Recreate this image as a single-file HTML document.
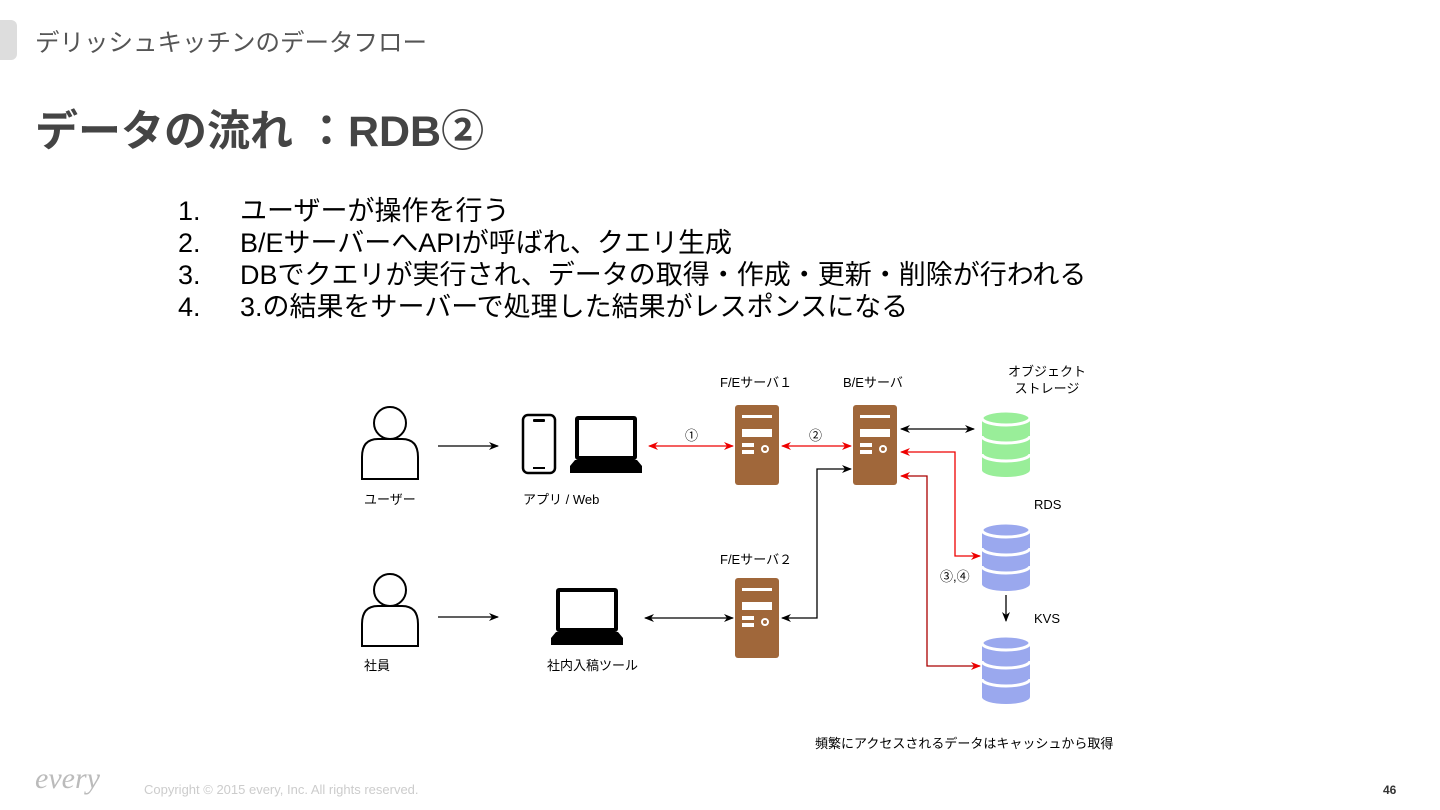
<!DOCTYPE html>
<html><head><meta charset="utf-8"><style>
body{margin:0;width:1440px;height:810px;background:#fff;position:relative;overflow:hidden;font-family:"Liberation Sans","Noto Sans CJK JP",sans-serif}
.a{position:absolute;white-space:nowrap}
.l{font-size:13px;color:#000}
</style></head><body>
<div class="a" style="left:0;top:20px;width:17px;height:40px;background:#ddd;border-radius:0 6px 6px 0"></div>
<div class="a" style="left:35px;top:24px;font-size:24.5px;color:#555">デリッシュキッチンのデータフロー</div>
<div class="a" style="left:35px;top:97px;font-size:43px;font-weight:bold;color:#444">データの流れ ：RDB②</div>
<div class="a" style="left:178px;top:195px;font-size:27px;line-height:32px;color:#000">1.<br>2.<br>3.<br>4.</div>
<div class="a" style="left:240px;top:195px;font-size:27px;line-height:32px;color:#000">ユーザーが操作を行う<br>B/EサーバーへAPIが呼ばれ、クエリ生成<br>DBでクエリが実行され、データの取得・作成・更新・削除が行われる<br>3.の結果をサーバーで処理した結果がレスポンスになる</div>

<svg class="a" style="left:0;top:0" width="1440" height="810">
<defs>
<marker id="k" markerWidth="10" markerHeight="8" refX="9" refY="4" orient="auto-start-reverse" markerUnits="userSpaceOnUse"><path d="M0,0L10,4L0,8L3,4Z" fill="#000"/></marker>
<marker id="r" markerWidth="10" markerHeight="8" refX="9" refY="4" orient="auto-start-reverse" markerUnits="userSpaceOnUse"><path d="M0,0L10,4L0,8L3,4Z" fill="#e00"/></marker>
<g id="srv"><rect width="44" height="80" rx="3" fill="#a0673a"/><rect x="7" y="10" width="30" height="3" fill="#fff"/><rect x="7" y="24" width="30" height="8" fill="#fff"/><rect x="7" y="38" width="12" height="4" fill="#fff"/><rect x="7" y="45" width="12" height="4" fill="#fff"/><circle cx="30" cy="44" r="4" fill="#fff"/><circle cx="30" cy="44" r="2" fill="#a0673a"/></g>
<g id="per"><circle cx="30" cy="18" r="16" fill="#fff" stroke="#000" stroke-width="2"/><path d="M2,74V52Q2,34 18,34H42Q58,34 58,52V74Z" fill="#fff" stroke="#000" stroke-width="2"/></g>
<g id="lap"><rect x="5" y="0" width="62" height="44" rx="3" fill="#000"/><rect x="9" y="4" width="54" height="36" fill="#fff"/><path d="M0,50L5,44H67L72,50V57H0Z" fill="#000"/></g>
</defs>
<use href="#per" x="360" y="405"/>
<use href="#per" x="360" y="572"/>
<rect x="523" y="415" width="32" height="58" rx="5" fill="#fff" stroke="#000" stroke-width="2.5"/>
<rect x="533" y="419" width="12" height="3" rx="1" fill="#000"/><rect x="533" y="467" width="12" height="2" fill="#000"/>
<use href="#lap" x="570" y="416"/>
<use href="#lap" x="551" y="588"/>
<use href="#srv" x="735" y="405"/>
<use href="#srv" x="853" y="405"/>
<use href="#srv" x="735" y="578"/>
<g stroke="#fff" stroke-width="3">
<path d="M982,418a24,7 0 0 0 48,0v52a24,7 0 0 1 -48,0Z" fill="#99ee99" stroke="none"/>
<ellipse cx="1006" cy="418" rx="24" ry="7" fill="#99ee99"/><path d="M982,436a24,7 0 0 0 48,0M982,454a24,7 0 0 0 48,0" fill="none"/>
<path d="M982,530a24,7 0 0 0 48,0v54a24,7 0 0 1 -48,0Z" fill="#9aa8ee" stroke="none"/>
<ellipse cx="1006" cy="530" rx="24" ry="7" fill="#9aa8ee"/><path d="M982,548a24,7 0 0 0 48,0M982,566a24,7 0 0 0 48,0" fill="none"/>
<path d="M982,643a24,7 0 0 0 48,0v54a24,7 0 0 1 -48,0Z" fill="#9aa8ee" stroke="none"/>
<ellipse cx="1006" cy="643" rx="24" ry="7" fill="#9aa8ee"/><path d="M982,661a24,7 0 0 0 48,0M982,679a24,7 0 0 0 48,0" fill="none"/>
</g>
<g fill="none" stroke-width="1.3">
<path d="M438,446H498" stroke="#000" marker-end="url(#k)"/>
<path d="M438,617H498" stroke="#000" marker-end="url(#k)"/>
<path d="M649,446H733" stroke="#e00" marker-start="url(#r)" marker-end="url(#r)"/>
<path d="M782,446H851" stroke="#e00" marker-start="url(#r)" marker-end="url(#r)"/>
<path d="M901,429H974" stroke="#000" marker-start="url(#k)" marker-end="url(#k)"/>
<path d="M901,452H955V556H980" stroke="#e00" marker-start="url(#r)" marker-end="url(#r)"/>
<path d="M901,476H927V666H980" stroke="#a00" marker-start="url(#r)" marker-end="url(#r)"/>
<path d="M645,618H733" stroke="#000" marker-start="url(#k)" marker-end="url(#k)"/>
<path d="M782,618H817V469H851" stroke="#000" marker-start="url(#k)" marker-end="url(#k)"/>
<path d="M1006,595V621" stroke="#000" marker-end="url(#k)"/>
</g>
</svg>
<div class="a l" style="left:364px;top:489px">ユーザー</div>
<div class="a l" style="left:523px;top:489px">アプリ / Web</div>
<div class="a l" style="left:364px;top:655px">社員</div>
<div class="a l" style="left:547px;top:655px">社内入稿ツール</div>
<div class="a l" style="left:720px;top:372px">F/Eサーバ１</div>
<div class="a l" style="left:843px;top:372px">B/Eサーバ</div>
<div class="a l" style="left:1008px;top:363px;line-height:17px;text-align:center">オブジェクト<br>ストレージ</div>
<div class="a l" style="left:720px;top:549px">F/Eサーバ２</div>
<div class="a l" style="left:1034px;top:497px">RDS</div>
<div class="a l" style="left:1034px;top:611px">KVS</div>
<div class="a l" style="left:685px;top:425px">①</div>
<div class="a l" style="left:809px;top:425px">②</div>
<div class="a l" style="left:940px;top:566px">③,④</div>
<div class="a l" style="left:815px;top:733px">頻繁にアクセスされるデータはキャッシュから取得</div>
<div class="a" style="left:35px;top:762px;font-size:30px;font-style:italic;color:#bbb;font-family:'Liberation Serif',serif">every</div>
<div class="a" style="left:144px;top:782px;font-size:13px;color:#ccc">Copyright © 2015 every, Inc. All rights reserved.</div>
<div class="a" style="left:1383px;top:783px;font-size:12px;font-weight:bold;color:#333">46</div>
</body></html>
